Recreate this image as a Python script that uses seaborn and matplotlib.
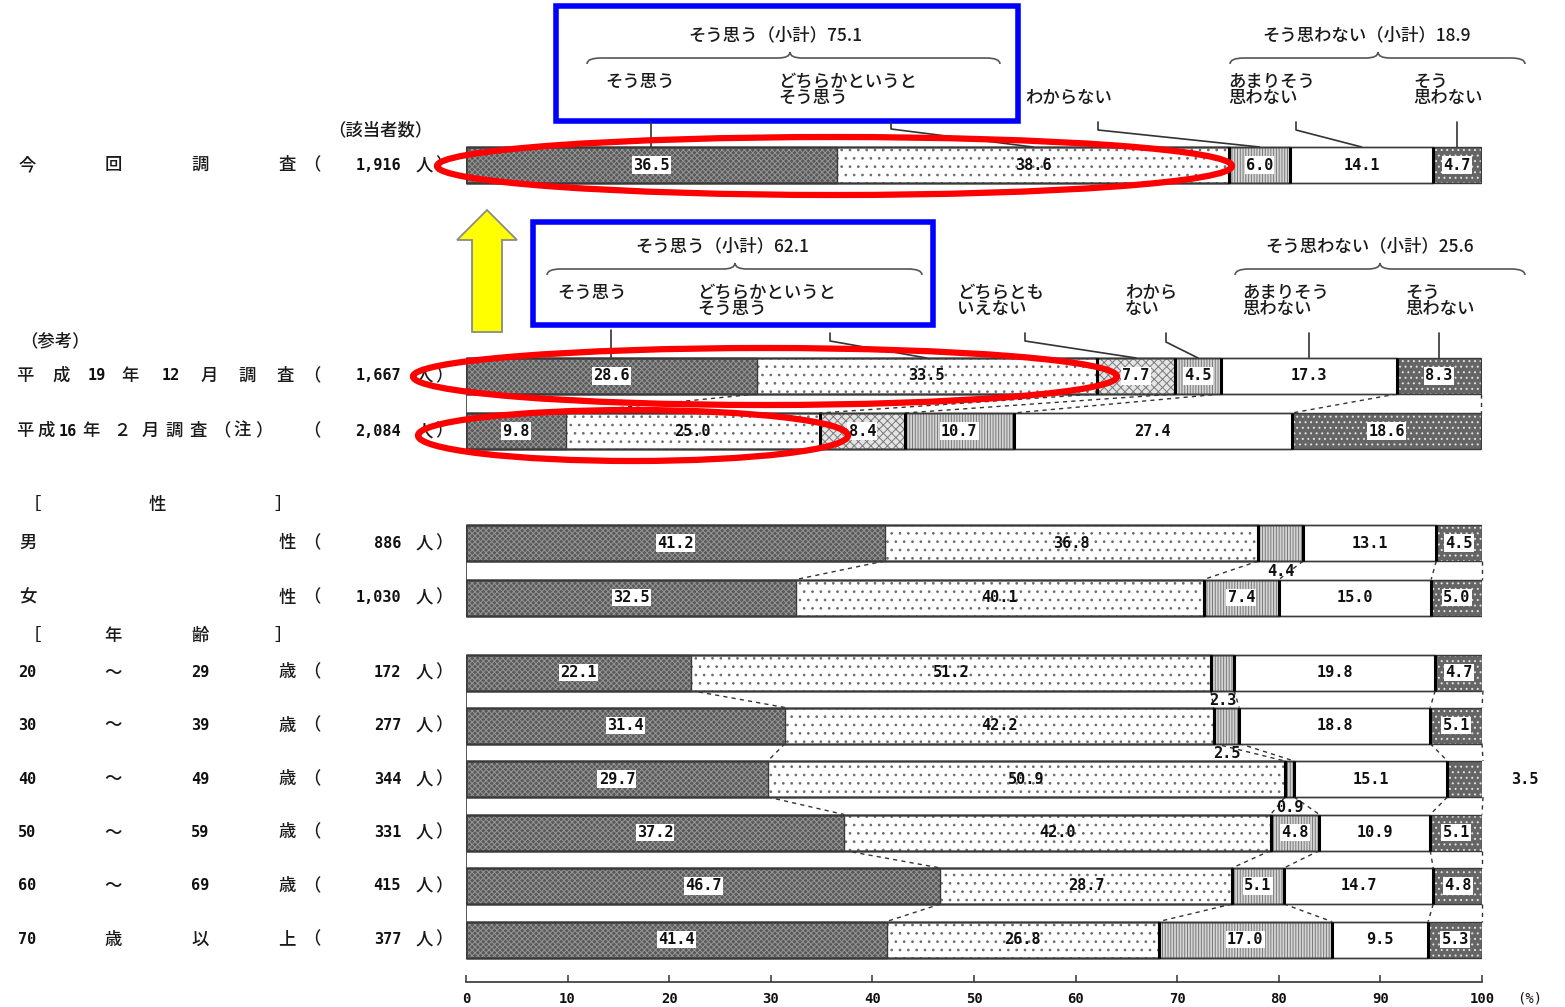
import matplotlib
matplotlib.use("Agg")
import matplotlib.pyplot as plt
import numpy as np
import pandas as pd
import seaborn as sns
from matplotlib.patches import Ellipse, Rectangle, Polygon, PathPatch
from matplotlib.path import Path

# ---------------- data ----------------
categories = ["そう思う", "どちらかというとそう思う", "どちらともいえない",
              "わからない", "あまりそう思わない", "そう思わない"]

groups = ["今回調査", "平成19年12月調査", "平成16年2月調査(注)", "男性", "女性",
          "20～29歳", "30～39歳", "40～49歳", "50～59歳", "60～69歳", "70歳以上"]
respondents = ["1,916", "1,667", "2,084", "886", "1,030",
               "172", "277", "344", "331", "415", "377"]

sou_omou     = [36.5, 28.6,  9.8, 41.2, 32.5, 22.1, 31.4, 29.7, 37.2, 46.7, 41.4]
dochiraka    = [38.6, 33.5, 25.0, 36.8, 40.1, 51.2, 42.2, 50.9, 42.0, 28.7, 26.8]
dochiratomo  = [0.0,  7.7,  8.4,  0.0,  0.0,  0.0,  0.0,  0.0,  0.0,  0.0,  0.0]
wakaranai    = [6.0,  4.5, 10.7,  4.4,  7.4,  2.3,  2.5,  0.9,  4.8,  5.1, 17.0]
amari        = [14.1, 17.3, 27.4, 13.1, 15.0, 19.8, 18.8, 15.1, 10.9, 14.7, 9.5]
sou_omowanai = [4.7,  8.3, 18.6,  4.5,  5.0,  4.7,  5.1,  3.5,  5.1,  4.8,  5.3]

agree_subtotal = [75.1, 62.1]
disagree_subtotal = [18.9, 25.6]

# label text pieces on the left, one list per row
row_label_parts = [
    ["今", "回", "調", "査"],
    ["平", "成", "19", "年", "12", "月", "調", "査"],
    ["平", "成", "16", "年", "２", "月", "調", "査", "（", "注", "）"],
    ["男", "性"],
    ["女", "性"],
    ["20", "～", "29", "歳"],
    ["30", "～", "39", "歳"],
    ["40", "～", "49", "歳"],
    ["50", "～", "59", "歳"],
    ["60", "～", "69", "歳"],
    ["70", "歳", "以", "上"],
]
x_ticks = [0, 10, 20, 30, 40, 50, 60, 70, 80, 90, 100]

# ---------------- layout (pixels) ----------------
W, H = 1565, 1007
X0, X100 = 466, 1482
row_y = [165, 376, 431, 543, 597.5, 672.5, 725.5, 779, 832.5, 886, 939.5]
BAR_H = 36
four_cols = [27, 113, 200, 287]
row_label_cols = [
    four_cols,
    [25, 61, 97, 130, 171, 209, 247, 285],
    [25, 46, 68, 91, 122, 150, 174, 198, 222, 242, 264],
    [28, 287], [28, 287],
    four_cols, four_cols, four_cols, four_cols, four_cols, four_cols,
]
linked_pairs = [(1, 2), (3, 4), (5, 6), (6, 7), (7, 8), (8, 9), (9, 10)]
blocks = [(0, 0), (1, 2), (3, 4), (5, 10)]
outside_labels = {(3, "わからない"): "below", (5, "わからない"): "below",
                  (6, "わからない"): "below", (7, "わからない"): "below",
                  (7, "そう思わない"): "right"}

styles = {
    "そう思う":             dict(face="#5a5a5a", hatch="xxxxxx", hc="#959595", box=True),
    "どちらかというとそう思う": dict(face="#ffffff", hatch="..",     hc="#6a6a6a", box=False),
    "どちらともいえない":     dict(face="#e4e4e4", hatch="xxxx",   hc="#7a7a7a", box=True),
    "わからない":           dict(face="#d4d4d4", hatch="||||||", hc="#7a7a7a", box=True),
    "あまりそう思わない":     dict(face="#ffffff", hatch="",       hc="#ffffff", box=False),
    "そう思わない":         dict(face="#656565", hatch="...",    hc="#e2e2e2", box=True),
}


def fx(p):
    """pixel column -> percent scale"""
    return (p - X0) / (X100 - X0) * 100.0


sns.set_theme(style="white")
plt.rcParams["font.family"] = ["Noto Sans CJK JP", "DejaVu Sans"]
plt.rcParams["hatch.linewidth"] = 0.7

JP = dict(fontsize=12.5, color="#1a1a1a", fontweight="medium")
NUM = dict(fontsize=11, color="#111111", family=["DejaVu Sans Mono"], fontweight="bold")

df = pd.DataFrame({"group": groups, "y": row_y,
                   categories[0]: sou_omou, categories[1]: dochiraka,
                   categories[2]: dochiratomo, categories[3]: wakaranai,
                   categories[4]: amari, categories[5]: sou_omowanai})
cum = df[categories].cumsum(axis=1)

fig = plt.figure(figsize=(W / 100, H / 100), dpi=100)
ax = fig.add_axes([X0 / W, 0, (X100 - X0) / W, 1])
bar_w = BAR_H / np.min(np.diff(sorted(row_y)))

# stacked bars: cumulative layers drawn from the widest to the narrowest
for cat in reversed(categories):
    st = styles[cat]
    sns.barplot(x=cum[cat].values, y=df["y"].values, orient="y", native_scale=True,
                width=bar_w, color=st["face"], saturation=1, errorbar=None,
                hatch=st["hatch"], edgecolor=st["hc"], linewidth=0, ax=ax, zorder=2)
for cat in reversed(categories):
    sns.barplot(x=cum[cat].values, y=df["y"].values, orient="y", native_scale=True,
                width=bar_w, fill=False, color="#3a3a3a", errorbar=None,
                linewidth=1.0, ax=ax, zorder=3)

# heavier separators after the first two answers
for cat in categories[1:5]:
    ax.vlines(cum[cat].values, df["y"] - BAR_H / 2, df["y"] + BAR_H / 2,
              color="black", lw=2.2, zorder=4)

# continuous left edge of each block
for a, b in blocks:
    ax.vlines(0, row_y[a] - BAR_H / 2, row_y[b] + BAR_H / 2, color="#3a3a3a", lw=1.2, zorder=4)

# dashed links between boundaries of neighbouring bars
for a, b in linked_pairs:
    present = [c for c in categories if df.loc[a, c] > 0 or df.loc[b, c] > 0]
    for c in present:
        ax.plot([cum.loc[a, c], cum.loc[b, c]],
                [row_y[a] + BAR_H / 2, row_y[b] - BAR_H / 2],
                ls=(0, (3, 3)), color="#333333", lw=1.0, zorder=1, clip_on=False)

# value labels
for i in range(len(groups)):
    for cat in categories:
        v = df.loc[i, cat]
        if v <= 0:
            continue
        xc = cum.loc[i, cat] - v / 2
        txt = f"{v:.1f}"
        where = outside_labels.get((i, cat))
        if where == "below":
            ax.text(xc, row_y[i] + BAR_H / 2 + 10, txt, ha="center", va="center", zorder=6, **NUM)
        elif where == "right":
            ax.text(fx(1525), row_y[i], txt, ha="center", va="center", zorder=6, **NUM)
        else:
            bbox = dict(boxstyle="square,pad=0.08", fc="white", ec="none") if styles[cat]["box"] else None
            ax.text(xc, row_y[i], txt, ha="center", va="center", zorder=6, bbox=bbox, **NUM)

# row labels
for i, (parts, cols) in enumerate(zip(row_label_parts, row_label_cols)):
    y = row_y[i]
    for t, c in zip(parts, cols):
        if t.isascii():
            ax.text(fx(c), y, t, ha="center", va="center", **NUM)
        else:
            ax.text(fx(c), y, t, ha="center", va="center", **JP)
    ax.text(fx(312), y, "（", ha="center", va="center", **JP)
    ax.text(fx(401), y, respondents[i], ha="right", va="center", **NUM)
    ax.text(fx(424), y, "人", ha="center", va="center", **JP)
    ax.text(fx(444), y, "）", ha="center", va="center", **JP)

ax.text(fx(380), 130, "（該当者数）", ha="center", va="center", **JP)
ax.text(fx(20), 341, "（参考）", ha="left", va="center", **JP)
for t, c in zip(["［", "性", "］"], [32, 157, 283]):
    ax.text(fx(c), 505, t, ha="center", va="center", **JP)
for t, c in zip(["［", "年", "齢", "］"], [32, 113, 200, 283]):
    ax.text(fx(c), 636, t, ha="center", va="center", **JP)


def brace(x0, x1, xm, y):
    verts = [(x0, y + 6), (x0, y), (x0 + 14, y), (xm - 12, y), (xm, y), (xm, y - 6),
             (xm, y), (xm + 12, y), (x1 - 14, y), (x1, y), (x1, y + 6)]
    codes = [Path.MOVETO, Path.CURVE3, Path.CURVE3, Path.LINETO, Path.CURVE3, Path.CURVE3,
             Path.CURVE3, Path.CURVE3, Path.LINETO, Path.CURVE3, Path.CURVE3]
    verts = [(fx(px), py) for px, py in verts]
    ax.add_patch(PathPatch(Path(verts, codes), fc="none", ec="#555555", lw=1.2, clip_on=False))


def lines(x, ys, parts):
    for yy, t in zip(ys, parts):
        ax.text(fx(x), yy, t, ha="left", va="center", **JP)


def leader(i, cat, y0, xs=None, ybend=None):
    xc = cum.loc[i, cat] - df.loc[i, cat] / 2
    ytop = row_y[i] - BAR_H / 2
    if xs is None:
        ax.plot([xc, xc], [y0, ytop], color="#333333", lw=1.2, clip_on=False)
    else:
        ax.plot([fx(xs), fx(xs), xc], [y0, ybend, ytop], color="#333333", lw=1.2, clip_on=False)


# header for the current survey
ax.text(fx(775), 35, f"そう思う（小計）{agree_subtotal[0]:.1f}", ha="center", va="center", **JP)
ax.text(fx(1367), 35, f"そう思わない（小計）{disagree_subtotal[0]:.1f}", ha="center", va="center", **JP)
brace(587, 1000, 790, 58)
brace(1230, 1525, 1378, 58)
lines(605, [82], ["そう思う"])
lines(778, [82, 98], ["どちらかというと", "そう思う"])
lines(1025, [98], ["わからない"])
lines(1228, [82, 98], ["あまりそう", "思わない"])
lines(1413, [82, 98], ["そう", "思わない"])
leader(0, "そう思う", 122)
leader(0, "どちらかというとそう思う", 122, 891, 129)
leader(0, "わからない", 122, 1098, 130)
leader(0, "あまりそう思わない", 122, 1296, 130)
leader(0, "そう思わない", 122)

# header for the December 2007 survey
ax.text(fx(722), 246, f"そう思う（小計）{agree_subtotal[1]:.1f}", ha="center", va="center", **JP)
ax.text(fx(1370), 246, f"そう思わない（小計）{disagree_subtotal[1]:.1f}", ha="center", va="center", **JP)
brace(547, 922, 735, 269)
brace(1235, 1525, 1380, 269)
lines(557, [293], ["そう思う"])
lines(697, [293, 309], ["どちらかというと", "そう思う"])
lines(957, [293, 309], ["どちらとも", "いえない"])
lines(1125, [293, 309], ["わから", "ない"])
lines(1242, [293, 309], ["あまりそう", "思わない"])
lines(1405, [293, 309], ["そう", "思わない"])
leader(1, "そう思う", 330)
leader(1, "どちらかというとそう思う", 333, 830, 341)
leader(1, "どちらともいえない", 333, 1025, 341)
leader(1, "わからない", 333, 1166, 342)
leader(1, "あまりそう思わない", 333)
leader(1, "そう思わない", 333)

# highlight boxes, ellipses and arrow
for (x0, y0, x1, y1) in [(556, 6, 1018, 121), (533, 222, 933, 325)]:
    ax.add_patch(Rectangle((fx(x0), y0), fx(x1) - fx(x0), y1 - y0, fc="white", ec="#0000ff",
                           lw=4, zorder=0, clip_on=False))
for (cx, cy, w, h) in [(834.5, 166, 795, 58), (765, 376.5, 704, 57), (633, 435.5, 430, 51)]:
    ax.add_patch(Ellipse((fx(cx), cy), fx(cx + w) - fx(cx), h, fc="none", ec="#ff0000",
                         lw=4.5, zorder=10, clip_on=False))
arrow = [(487, 210), (517, 240), (502, 240), (502, 332), (472, 332), (472, 240), (457, 240)]
ax.add_patch(Polygon([(fx(px), py) for px, py in arrow], closed=True, fc="#ffff00",
                     ec="#8a8a8a", lw=1.3, zorder=5, clip_on=False))

# percentage axis
ax.set_xlim(0, 100)
ax.set_ylim(H, 0)
ax.set_xlabel("")
ax.set_ylabel("")
ax.set_yticks([])
for s in ["top", "left", "right"]:
    ax.spines[s].set_visible(False)
ax.spines["bottom"].set_position(("data", 982))
ax.spines["bottom"].set_color("#333333")
ax.spines["bottom"].set_linewidth(1.2)
ax.set_xticks(x_ticks)
ax.set_xticklabels([str(t) for t in x_ticks], family=["DejaVu Sans Mono"],
                   fontweight="bold", fontsize=10, color="#111111")
ax.tick_params(axis="x", direction="in", length=5, width=1.1, color="#333333", pad=7, bottom=True)
ax.text(fx(1530), 999, "(%)", ha="center", va="center", fontsize=10,
        family=["DejaVu Sans Mono"], color="#111111")
ax.set_facecolor("none")
ax.patch.set_alpha(0)

fig.savefig("out.png", dpi=100, facecolor="white")
